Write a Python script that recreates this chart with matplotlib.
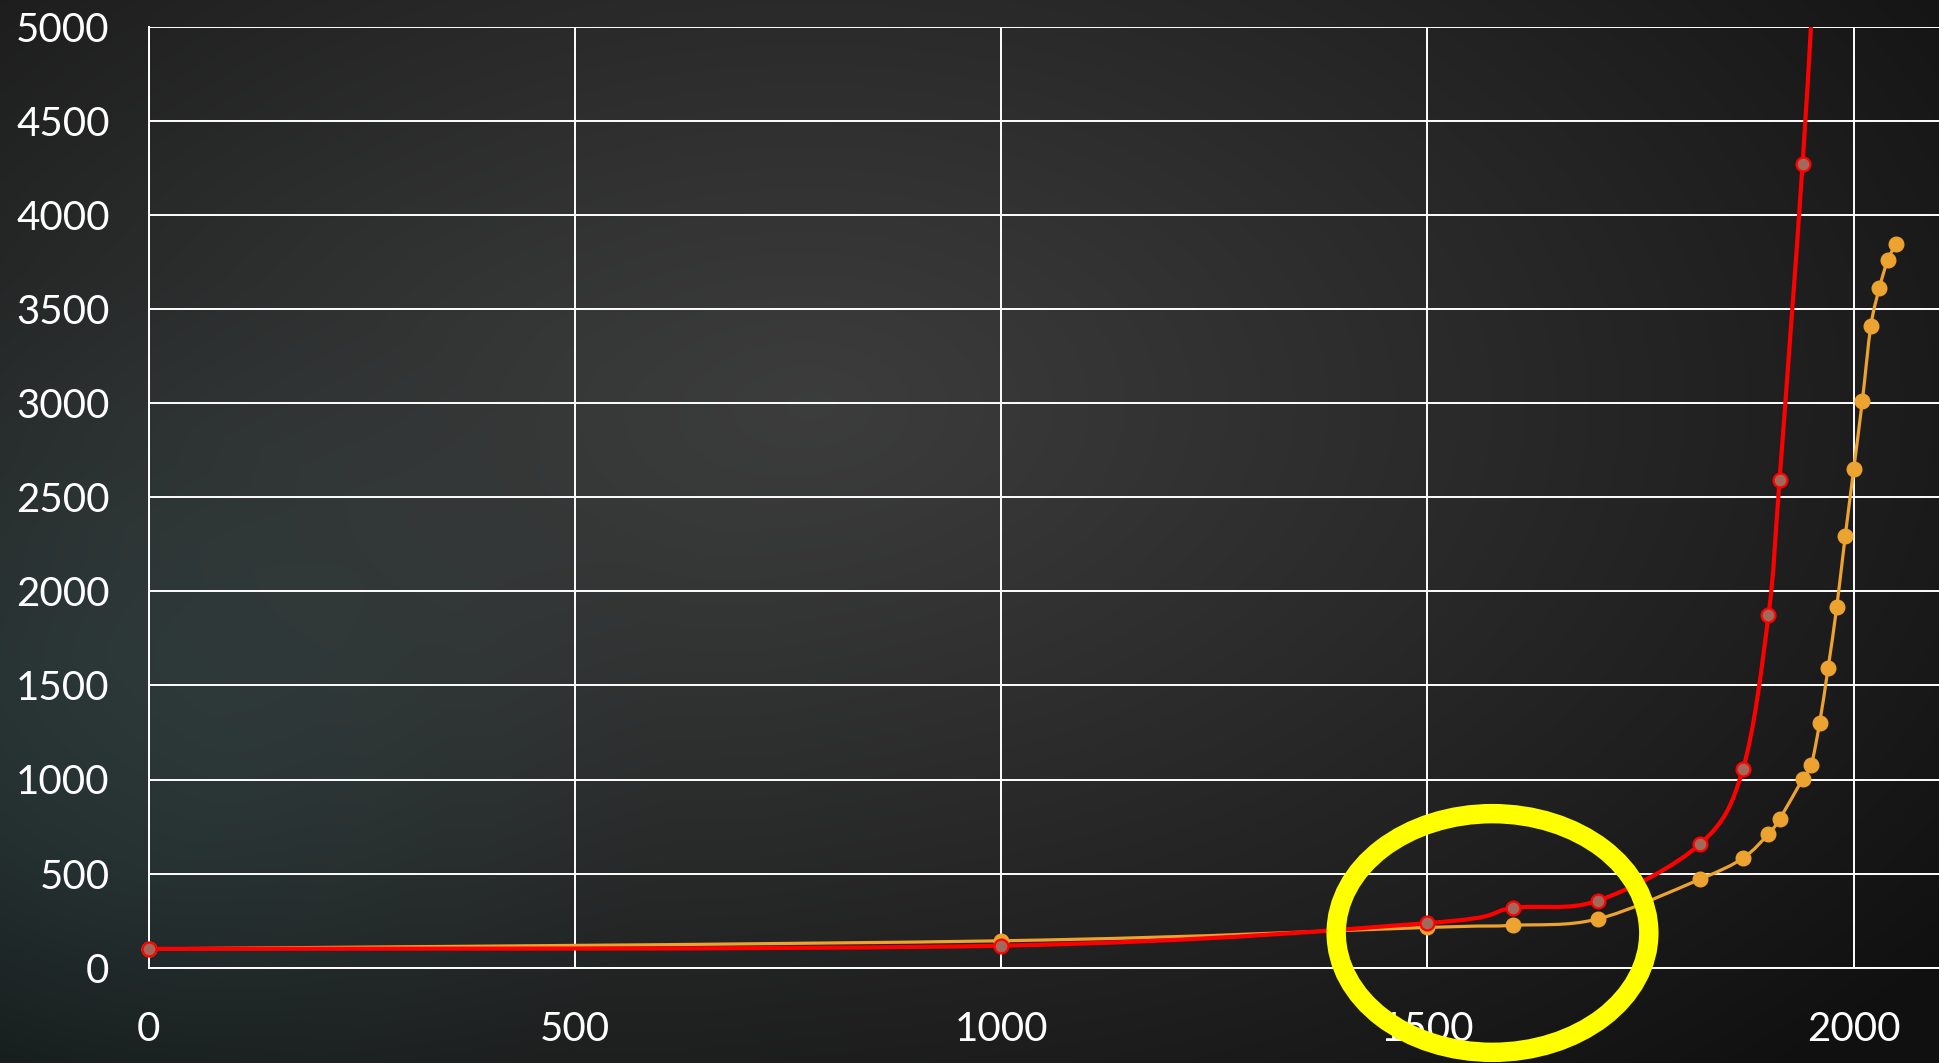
import numpy as np, matplotlib
matplotlib.use("Agg"); import matplotlib.pyplot as plt
from matplotlib.path import Path
from matplotlib.patches import PathPatch, Ellipse

# values
years_orange = [0, 1000, 1500, 1600, 1700, 1820, 1870, 1900, 1913, 1940, 1950,
                1960, 1970, 1980, 1990, 2000, 2010, 2020, 2030, 2040, 2050]
vals_orange = [100, 143, 214, 225, 259, 471, 582, 711, 789, 1002, 1076,
               1301, 1595, 1914, 2293, 2650, 3009, 3408, 3610, 3762, 3846]
years_red = [0, 1000, 1500, 1600, 1700, 1820, 1870, 1900, 1913, 1940, 1960]
vals_red = [100, 117, 237, 317, 356, 658, 1055, 1873, 2593, 4271, 5800]
xticks = [0, 500, 1000, 1500, 2000]
yticks = list(range(0, 5001, 500))

def smooth_path(xs, ys):
    # Excel-like smoothed line: cubic bezier segments, catmull-rom control points
    p = np.column_stack([xs, ys]).astype(float)
    n = len(p)
    verts = [p[0]]; codes = [Path.MOVETO]
    for i in range(n - 1):
        pm = p[max(i - 1, 0)]; pn = p[min(i + 2, n - 1)]
        c1 = p[i] + (p[i + 1] - pm) / 6.0
        c2 = p[i + 1] - (pn - p[i]) / 6.0
        verts += [c1, c2, p[i + 1]]; codes += [Path.CURVE4] * 3
    return Path(verts, codes)

W, H = 1939, 1063
fig = plt.figure(figsize=(W / 100, H / 100), dpi=100)

# dark radial backdrop
bg = fig.add_axes([0, 0, 1, 1], zorder=-5)
yy, xx = np.mgrid[0:H:2, 0:W:2]
d = np.sqrt(((xx - 0.42 * W) / (0.75 * W)) ** 2 + ((yy - 0.38 * H) / (0.85 * H)) ** 2)
t = np.clip(d, 0, 1) ** 1.1
cen = np.array([60, 60, 60]) / 255; edge = np.array([16, 16, 16]) / 255
img = cen * (1 - t[..., None]) + edge * t[..., None]
teal = np.exp(-(((xx - 0.05 * W) / (0.22 * W)) ** 2 + ((yy - 0.72 * H) / (0.35 * H)) ** 2))
img = img + teal[..., None] * (np.array([8, 20, 20]) / 255)
bg.imshow(np.clip(img, 0, 1), aspect='auto', extent=[0, 1, 0, 1], interpolation='bilinear')
bg.axis('off')

ax = fig.add_axes([148.5 / W, 95.3 / H, 1 - 148.5 / W, 941 / H])
ax.set_facecolor('none')
ax.set_xlim(0, 2100); ax.set_ylim(0, 5000)
ax.set_xticks(xticks); ax.set_yticks(yticks)
ax.grid(True, color='white', lw=1.4)
for s in ['top', 'right']:
    ax.spines[s].set_visible(False)
for s in ['left', 'bottom']:
    ax.spines[s].set_color('white'); ax.spines[s].set_linewidth(1.4)
ax.tick_params(length=0, colors='white', labelsize=29)
ax.tick_params(axis='y', pad=28)
ax.tick_params(axis='x', pad=31)
for lab in ax.get_xticklabels() + ax.get_yticklabels():
    lab.set_fontfamily('Lato'); lab.set_fontweight('normal'); lab.set_color('white')

orange = '#eda32f'
ax.add_patch(PathPatch(smooth_path(years_orange, vals_orange), fill=False, edgecolor=orange, lw=2.3, zorder=3))
ax.plot(years_orange, vals_orange, 'o', ms=10.5, color=orange, mec=orange, zorder=4, clip_on=False)
ax.add_patch(PathPatch(smooth_path(years_red, vals_red), fill=False, edgecolor='#ff0000', lw=3.0, zorder=5))
rx = [x for x, v in zip(years_red, vals_red) if v <= 5000]
rv = [v for v in vals_red if v <= 5000]
ax.plot(rx, rv, 'o', ms=10, mfc='#a2685a', mec='#ff0000', mew=1.6, zorder=6, clip_on=False)

# yellow highlight ring
ring = Ellipse((1492.5 / W, 1 - 933 / H), 312.6 / W, 238.7 / H, transform=fig.transFigure,
               fill=False, edgecolor='#ffff00', lw=14, zorder=20)
fig.add_artist(ring)

fig.savefig("out.png", dpi=100)
